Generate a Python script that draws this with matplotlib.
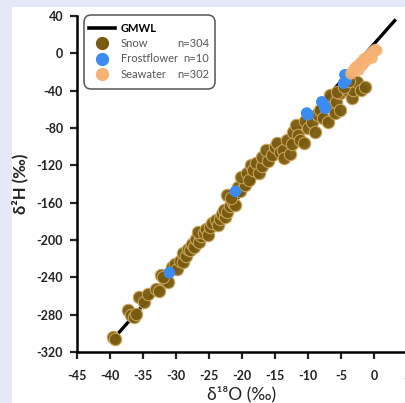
import matplotlib
matplotlib.use("Agg")
import matplotlib.pyplot as plt
from matplotlib.lines import Line2D
from matplotlib.patches import Rectangle, FancyBboxPatch

plt.rcParams['font.family'] = ['Lato', 'DejaVu Sans']

# ---------------- data ----------------
gmwl_x = [-39.5, 3.3]
gmwl_y = [-306.0, 36.4]

snow_x = [-39.6, -39.3, -37.2, -36.8, -36.3, -36.0, -35.6, -34.8, -34.2, -33.0, -32.6,
          -32.3, -31.6, -31.2, -31.9, -30.6, -30.2, -29.8, -29.4, -29.0, -28.9, -28.5,
          -28.2, -27.9, -27.6, -27.3, -26.9, -26.5, -26.2, -26.6, -25.8, -25.4, -25.1,
          -24.8, -24.5, -24.0, -23.7, -23.4, -23.0, -22.6, -22.8, -22.2, -21.8, -21.4,
          -21.0, -22.3, -21.6, -20.6, -20.3, -19.6, -20.1, -19.3, -18.9, -18.7, -18.3,
          -17.9, -17.5, -16.9, -17.0, -16.4, -16.0, -15.4, -15.0, -14.7, -14.3, -13.8,
          -13.6, -13.2, -12.8, -12.4, -12.2, -11.8, -11.5, -11.2, -10.6, -10.5, -10.0,
          -9.4, -9.0, -8.5, -8.2, -7.7, -7.0, -6.7, -6.4, -5.9, -5.8, -5.2, -5.1, -5.6,
          -4.1, -3.4, -3.2, -2.6, -1.9, -1.3, -4.6, -3.8]
snow_y = [-304, -306, -275, -280, -283, -279, -261, -266, -258, -253, -255,
          -237, -243, -245, -240, -229, -226, -231, -222, -224, -214, -217,
          -210, -211, -204, -207, -199, -202, -196, -191, -193, -188, -195,
          -186, -182, -179, -184, -177, -172, -175, -168, -170, -164, -160,
          -163, -152, -155, -143, -147, -141, -133, -128, -136, -120, -125,
          -118, -128, -121, -111, -104, -115, -109, -100, -96, -106, -104,
          -112, -93, -108, -97, -84, -77, -88, -93, -96, -72, -80,
          -74, -84, -66, -61, -69, -74, -45, -57, -64, -52, -61, -43, -41,
          -39, -48, -39, -31, -39, -36, -36, -30]

frost_x = [-31.0, -21.0, -10.0, -10.2, -7.9, -7.4, -7.6, -4.6, -4.2, -4.4]
frost_y = [-235, -148, -66, -64, -52, -59, -55, -32, -29, -23]

sea_x = [-3.5, -3.2, -2.9, -2.6, -2.3, -2.0, -1.8, -1.6, -1.5, -1.2, -1.0, -0.7,
         -0.4, -0.3, -0.1, 0.2, 0.4]
sea_y = [-22, -19, -16, -14, -18, -10, -13, -11, -6, -8, -4, -2,
         0, -5, 2, 4, 3]

labels = ['GMWL', 'Snow', 'Frostflower', 'Seawater']
counts = ['', 'n=304', 'n=10', 'n=302']
xticks = [-45, -40, -35, -30, -25, -20, -15, -10, -5, 0, 5]
yticks = [40, 0, -40, -80, -120, -160, -200, -240, -280, -320]

snow_c = '#7a5a0e'
snow_edge = '#c9a75c'
frost_c = '#3b8cf2'
sea_c = '#f6b274'

W, H = 405, 403

# ---------------- figure ----------------
fig = plt.figure(figsize=(W / 100, H / 100), dpi=100, facecolor='#e4e8f8')
fig.patches.append(Rectangle((12 / W, 0), 1, 1 - 7 / H, transform=fig.transFigure,
                             facecolor='white', edgecolor='none', zorder=-10))

ax = fig.add_axes([77 / W, 1 - 352 / H, (407 - 77) / W, (352 - 16) / H])
ax.set_facecolor('none')
ax.set_zorder(5)

ax.plot(gmwl_x, gmwl_y, color='black', lw=2.4, zorder=2, solid_capstyle='butt')
ax.scatter(snow_x, snow_y, s=80, c=snow_c, edgecolors=snow_edge, linewidths=0.8,
           alpha=0.95, zorder=3)
ax.scatter(frost_x, frost_y, s=70, c=frost_c, edgecolors='none', zorder=4)
ax.scatter(sea_x, sea_y, s=70, c=sea_c, edgecolors='none', alpha=0.9, zorder=5)

ax.set_xlim(-45, 5)
ax.set_ylim(-320, 40)
ax.set_xticks(xticks)
ax.set_yticks(yticks)
ax.set_xticklabels([str(t) for t in xticks])
ax.set_yticklabels([str(t) for t in yticks])

for s in ['top', 'right']:
    ax.spines[s].set_visible(False)
for s in ['left', 'bottom']:
    ax.spines[s].set_linewidth(1.8)
ax.tick_params(axis='both', direction='out', length=5, width=1.6, labelsize=9,
               colors='#222222')
ax.tick_params(axis='x', pad=8)
ax.tick_params(axis='y', pad=5)
for lab in ax.get_xticklabels() + ax.get_yticklabels():
    lab.set_fontweight('bold')

ax.set_xlabel('δ¹⁸O (‰)', fontsize=12.5, labelpad=3, color='#222222')
ax.set_ylabel('δ²H (‰)', fontsize=12, labelpad=6, color='#222222', fontweight='bold')

# legend box drawn at fixed position
fig.patches.append(FancyBboxPatch((84 / W, 1 - 89 / H), (215 - 84) / W, (89 - 15) / H,
                                  boxstyle='round,pad=0,rounding_size=0.018',
                                  transform=fig.transFigure, facecolor='white',
                                  edgecolor='#555555', linewidth=1.1, zorder=20))

handles = [Line2D([0], [0], color='black', lw=2.6),
           Line2D([0], [0], marker='o', ls='none', markersize=8.5, markerfacecolor=snow_c,
                  markeredgecolor=snow_c),
           Line2D([0], [0], marker='o', ls='none', markersize=8.5, markerfacecolor=frost_c,
                  markeredgecolor=frost_c),
           Line2D([0], [0], marker='o', ls='none', markersize=8.5, markerfacecolor=sea_c,
                  markeredgecolor=sea_c)]
leg = fig.legend(handles, labels, loc='upper left', bbox_to_anchor=(89 / W, 1 - 23 / H),
                 frameon=False, fontsize=8.0, handlelength=2.3, handletextpad=0.55,
                 labelspacing=0.38, borderpad=0, borderaxespad=0)
leg.set_zorder(21)
texts = leg.get_texts()
texts[0].set_fontweight('bold')
for t in texts[1:]:
    t.set_color('#555555')

fig.canvas.draw()
for t, c in zip(texts, counts):
    if c:
        bb = t.get_window_extent()
        ycen = (bb.y0 + bb.y1) / 2
        fig.text(209 / W, ycen / fig.bbox.height, c, ha='right', va='center',
                 fontsize=8.0, color='#555555', zorder=22)

fig.savefig('out.png', dpi=100, facecolor=fig.get_facecolor())
